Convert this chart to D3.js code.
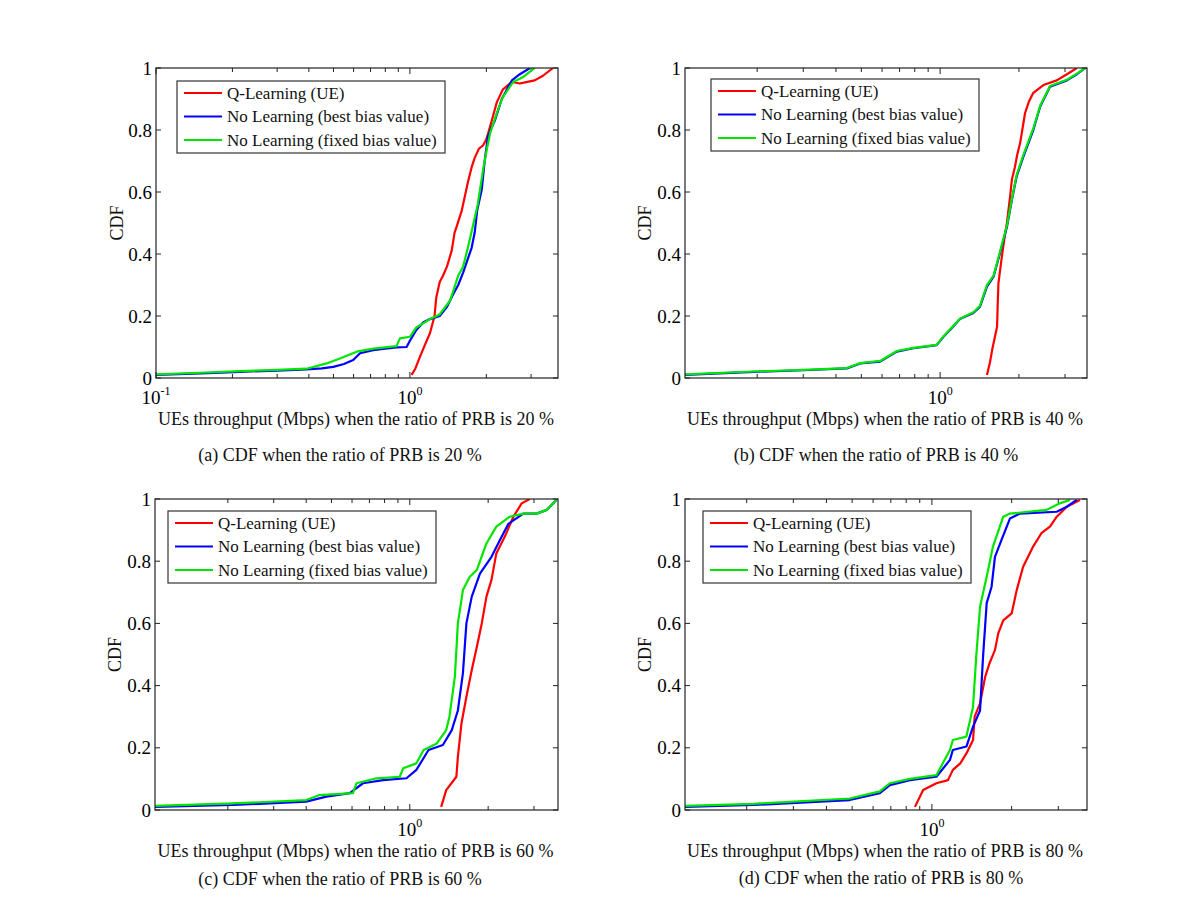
<!DOCTYPE html>
<html>
<head>
<meta charset="utf-8">
<script src="https://cdn.jsdelivr.net/npm/d3@7"></script>
<style>
  html, body { margin: 0; padding: 0; background: #fff; }
  svg { display: block; }
  text { font-family: "Liberation Serif", "Times New Roman", serif; fill: #111; }
</style>
</head>
<body>
<svg id="chart" width="1200" height="910"></svg>
<script>
// ---------------- DATA (throughput in Mbps, CDF value) ----------------
const seriesNames = ["Q-Learning (UE)", "No Learning (best bias value)", "No Learning (fixed bias value)"];
const yTicks = [0, 0.2, 0.4, 0.6, 0.8, 1];
const xLabels = [
  "UEs throughput (Mbps) when the ratio of PRB is 20 %",
  "UEs throughput (Mbps) when the ratio of PRB is 40 %",
  "UEs throughput (Mbps) when the ratio of PRB is 60 %",
  "UEs throughput (Mbps) when the ratio of PRB is 80 %"
];
const captions = [
  "(a) CDF when the ratio of PRB is 20 %",
  "(b) CDF when the ratio of PRB is 40 %",
  "(c) CDF when the ratio of PRB is 60 %",
  "(d) CDF when the ratio of PRB is 80 %"
];

// Panel (a) PRB 20 %
const qlA = [[1.015,0.01],[1.05,0.03],[1.095,0.068],[1.15,0.11],[1.2,0.145],[1.25,0.2],[1.27,0.26],[1.31,0.31],[1.35,0.33],[1.40,0.36],[1.46,0.41],[1.50,0.47],[1.53,0.49],[1.60,0.54],[1.65,0.59],[1.69,0.63],[1.75,0.68],[1.80,0.71],[1.87,0.74],[1.94,0.75],[2.0,0.77],[2.05,0.80],[2.10,0.83],[2.20,0.89],[2.32,0.93],[2.52,0.955],[2.71,0.95],[2.9,0.955],[3.10,0.96],[3.34,0.975],[3.66,1.0]];
const bestA = [[0.1,0.01],[0.15,0.015],[0.214,0.02],[0.3,0.024],[0.392,0.028],[0.45,0.031],[0.499,0.036],[0.55,0.045],[0.598,0.058],[0.636,0.08],[0.717,0.09],[0.8,0.095],[0.886,0.099],[0.97,0.10],[1.0,0.12],[1.06,0.155],[1.13,0.18],[1.2,0.19],[1.31,0.20],[1.40,0.23],[1.48,0.27],[1.55,0.30],[1.62,0.34],[1.70,0.39],[1.75,0.42],[1.80,0.47],[1.84,0.54],[1.92,0.61],[1.97,0.70],[2.03,0.78],[2.10,0.81],[2.16,0.83],[2.30,0.90],[2.52,0.96],[2.71,0.98],[2.97,1.0]];
const fixedA = [[0.1,0.012],[0.15,0.017],[0.214,0.022],[0.3,0.026],[0.392,0.03],[0.47,0.047],[0.53,0.063],[0.617,0.085],[0.717,0.095],[0.886,0.103],[0.913,0.128],[1.0,0.133],[1.06,0.163],[1.2,0.19],[1.31,0.205],[1.44,0.25],[1.55,0.33],[1.62,0.36],[1.68,0.41],[1.77,0.49],[1.85,0.56],[1.94,0.67],[2.0,0.73],[2.07,0.79],[2.20,0.855],[2.32,0.905],[2.55,0.955],[2.78,0.97],[3.10,1.0]];

// Panel (b) PRB 40 %
const qlB = [[1.51,0.01],[1.55,0.05],[1.58,0.09],[1.65,0.165],[1.66,0.24],[1.67,0.305],[1.72,0.39],[1.76,0.45],[1.80,0.5],[1.85,0.585],[1.88,0.64],[1.93,0.68],[1.97,0.72],[2.02,0.757],[2.06,0.80],[2.11,0.854],[2.18,0.89],[2.27,0.92],[2.48,0.945],[2.79,0.96],[3.05,0.98],[3.33,1.0]];
const bestB = [[0.106,0.01],[0.194,0.02],[0.3,0.025],[0.44,0.031],[0.495,0.047],[0.59,0.053],[0.683,0.085],[0.79,0.096],[0.97,0.106],[1.03,0.133],[1.12,0.165],[1.19,0.19],[1.34,0.21],[1.42,0.23],[1.51,0.295],[1.60,0.327],[1.69,0.40],[1.80,0.488],[1.88,0.574],[1.96,0.65],[2.08,0.714],[2.27,0.80],[2.41,0.875],[2.63,0.94],[3.05,0.96],[3.33,0.98],[3.58,1.0]];
const fixedB = [[0.106,0.012],[0.194,0.021],[0.3,0.026],[0.44,0.032],[0.495,0.048],[0.59,0.055],[0.683,0.087],[0.79,0.097],[0.97,0.107],[1.03,0.135],[1.12,0.167],[1.19,0.191],[1.34,0.212],[1.42,0.233],[1.51,0.30],[1.60,0.33],[1.69,0.405],[1.80,0.492],[1.88,0.578],[1.96,0.655],[2.08,0.72],[2.27,0.805],[2.41,0.878],[2.63,0.942],[3.05,0.962],[3.33,0.982],[3.58,1.0]];

// Panel (c) PRB 60 %
const qlC = [[1.32,0.01],[1.38,0.064],[1.51,0.107],[1.53,0.171],[1.58,0.279],[1.65,0.364],[1.73,0.45],[1.81,0.525],[1.89,0.60],[1.97,0.686],[2.06,0.74],[2.15,0.825],[2.32,0.88],[2.50,0.943],[2.69,0.986],[2.89,1.0]];
const bestC = [[0.105,0.01],[0.209,0.016],[0.40,0.027],[0.478,0.043],[0.588,0.054],[0.661,0.086],[0.79,0.096],[0.971,0.102],[1.06,0.129],[1.18,0.193],[1.34,0.209],[1.45,0.257],[1.53,0.32],[1.60,0.44],[1.65,0.60],[1.73,0.686],[1.86,0.76],[2.06,0.814],[2.22,0.868],[2.39,0.92],[2.73,0.953],[3.07,0.953],[3.36,0.965],[3.66,0.997]];
const fixedC = [[0.105,0.013],[0.209,0.021],[0.40,0.032],[0.45,0.048],[0.605,0.054],[0.624,0.086],[0.745,0.102],[0.915,0.107],[0.943,0.134],[1.06,0.15],[1.13,0.193],[1.27,0.214],[1.38,0.257],[1.42,0.30],[1.49,0.429],[1.53,0.60],[1.60,0.707],[1.70,0.75],[1.81,0.772],[1.97,0.857],[2.15,0.911],[2.42,0.943],[2.73,0.953],[3.07,0.953],[3.36,0.965],[3.66,0.997]];

// Panel (d) PRB 80 %
const qlD = [[0.863,0.01],[0.927,0.064],[1.04,0.086],[1.15,0.096],[1.20,0.129],[1.28,0.15],[1.35,0.182],[1.43,0.225],[1.45,0.30],[1.52,0.343],[1.59,0.429],[1.65,0.472],[1.73,0.514],[1.78,0.568],[1.86,0.61],[2.0,0.632],[2.09,0.707],[2.21,0.782],[2.41,0.847],[2.59,0.89],[2.79,0.911],[2.96,0.943],[3.23,0.975],[3.62,0.997]];
const bestD = [[0.117,0.01],[0.212,0.016],[0.49,0.032],[0.636,0.054],[0.694,0.08],[0.826,0.096],[1.04,0.107],[1.17,0.161],[1.20,0.193],[1.35,0.204],[1.43,0.268],[1.52,0.32],[1.56,0.493],[1.61,0.665],[1.68,0.718],[1.73,0.814],[1.83,0.868],[1.97,0.937],[2.15,0.953],[2.96,0.959],[3.23,0.975],[3.52,0.997]];
const fixedD = [[0.117,0.013],[0.212,0.02],[0.49,0.037],[0.636,0.06],[0.694,0.086],[0.826,0.1],[1.04,0.112],[1.17,0.193],[1.20,0.225],[1.35,0.236],[1.43,0.332],[1.47,0.493],[1.52,0.654],[1.61,0.75],[1.70,0.847],[1.86,0.943],[1.97,0.953],[2.71,0.965],[3.04,0.986],[3.32,0.997]];

const seriesColors = ["#ff0000", "#0000ff", "#00e600"];

// ---------------- LAYOUT ----------------
const panels = [
  { series: [qlA, bestA, fixedA], xDomain: [0.1, 3.83],  box: {x: 156, y: 68,  w: 402, h: 310}, legend: {dx: 21, dy: 13}, xlabelY: 425, captionY: 461, captionX: 340, cdfX: 123 },
  { series: [qlB, bestB, fixedB], xDomain: [0.106, 3.64], box: {x: 685, y: 68,  w: 402, h: 310}, legend: {dx: 26, dy: 11}, xlabelY: 425, captionY: 461, captionX: 876, cdfX: 651 },
  { series: [qlC, bestC, fixedC], xDomain: [0.105, 3.71], box: {x: 155, y: 499, w: 403, h: 311}, legend: {dx: 13, dy: 12}, xlabelY: 857, captionY: 885, captionX: 340, cdfX: 121 },
  { series: [qlD, bestD, fixedD], xDomain: [0.117, 3.85], box: {x: 685, y: 499, w: 402, h: 311}, legend: {dx: 18, dy: 12}, xlabelY: 857, captionY: 884, captionX: 881, cdfX: 651 }
];

const svg = d3.select("#chart");
const TICK_FS = 19, LEG_FS = 17, LAB_FS = 18;

panels.forEach((p, i) => {
  const b = p.box;
  const g = svg.append("g").attr("transform", `translate(${b.x},${b.y})`);
  const x = d3.scaleLog().domain(p.xDomain).range([0, b.w]);
  const y = d3.scaleLinear().domain([0, 1]).range([b.h, 0]);

  const clipId = "clip" + i;
  g.append("clipPath").attr("id", clipId).append("rect").attr("width", b.w).attr("height", b.h);

  // ticks (inward, on all four sides)
  const [lo, hi] = p.xDomain;
  const minor = [], major = [];
  for (let e = -2; e <= 1; e++) {
    for (let m = 1; m <= 9; m++) {
      const v = m * Math.pow(10, e);
      if (v >= lo * 0.9999 && v <= hi * 1.0001) (m === 1 ? major : minor).push(v);
    }
  }
  const tk = g.append("g").attr("stroke", "#222").attr("stroke-width", 1);
  minor.forEach(v => {
    tk.append("line").attr("x1", x(v)).attr("x2", x(v)).attr("y1", b.h).attr("y2", b.h - 4);
    tk.append("line").attr("x1", x(v)).attr("x2", x(v)).attr("y1", 0).attr("y2", 4);
  });
  major.forEach(v => {
    tk.append("line").attr("x1", x(v)).attr("x2", x(v)).attr("y1", b.h).attr("y2", b.h - 6);
    tk.append("line").attr("x1", x(v)).attr("x2", x(v)).attr("y1", 0).attr("y2", 6);
  });
  yTicks.forEach(t => {
    tk.append("line").attr("x1", 0).attr("x2", 5).attr("y1", y(t)).attr("y2", y(t));
    tk.append("line").attr("x1", b.w).attr("x2", b.w - 5).attr("y1", y(t)).attr("y2", y(t));
  });

  // y tick labels
  g.append("g").selectAll("text").data(yTicks).join("text")
    .attr("x", -4).attr("y", d => y(d)).attr("dy", "0.35em")
    .attr("text-anchor", "end").attr("font-size", TICK_FS).style("fill", "#000")
    .text(d => d3.format("~g")(d));

  // x tick labels (10^k)
  major.forEach(v => {
    const e = Math.round(Math.log10(v));
    const t = g.append("text").attr("x", x(v)).attr("y", b.h + 26)
      .attr("text-anchor", "middle").attr("font-size", TICK_FS).style("fill", "#000");
    t.append("tspan").text("10");
    t.append("tspan").attr("font-size", 12).attr("dy", -9).text(String(e));
  });

  // lines
  const line = d3.line().x(d => x(d[0])).y(d => y(d[1]));
  const lg = g.append("g").attr("clip-path", `url(#${clipId})`);
  p.series.forEach((s, k) => {
    lg.append("path").datum(s).attr("d", line)
      .attr("fill", "none").attr("stroke", seriesColors[k]).attr("stroke-width", 2.2)
      .attr("stroke-linejoin", "round");
  });

  // axes box
  g.append("rect").attr("width", b.w).attr("height", b.h)
    .attr("fill", "none").attr("stroke", "#222").attr("stroke-width", 1.2);

  // legend
  const L = g.append("g").attr("transform", `translate(${p.legend.dx},${p.legend.dy})`);
  L.append("rect").attr("width", 268).attr("height", 72)
    .attr("fill", "#fff").attr("stroke", "#333").attr("stroke-width", 1.2);
  seriesNames.forEach((n, k) => {
    const yy = 12 + k * 23.5;
    L.append("line").attr("x1", 7).attr("x2", 45).attr("y1", yy).attr("y2", yy)
      .attr("stroke", seriesColors[k]).attr("stroke-width", 2);
    L.append("text").attr("x", 50).attr("y", yy).attr("dy", "0.35em")
      .attr("font-size", LEG_FS).text(n);
  });

  // y label
  svg.append("text")
    .attr("transform", `translate(${p.cdfX},${b.y + b.h / 2}) rotate(-90)`)
    .attr("text-anchor", "middle").attr("font-size", LAB_FS).text("CDF");

  // x label
  svg.append("text").attr("x", b.x + b.w / 2 - 1).attr("y", p.xlabelY)
    .attr("text-anchor", "middle").attr("font-size", LAB_FS).text(xLabels[i]);

  // caption
  svg.append("text").attr("x", p.captionX).attr("y", p.captionY)
    .attr("text-anchor", "middle").attr("font-size", LAB_FS).text(captions[i]);
});
</script>
</body>
</html>
